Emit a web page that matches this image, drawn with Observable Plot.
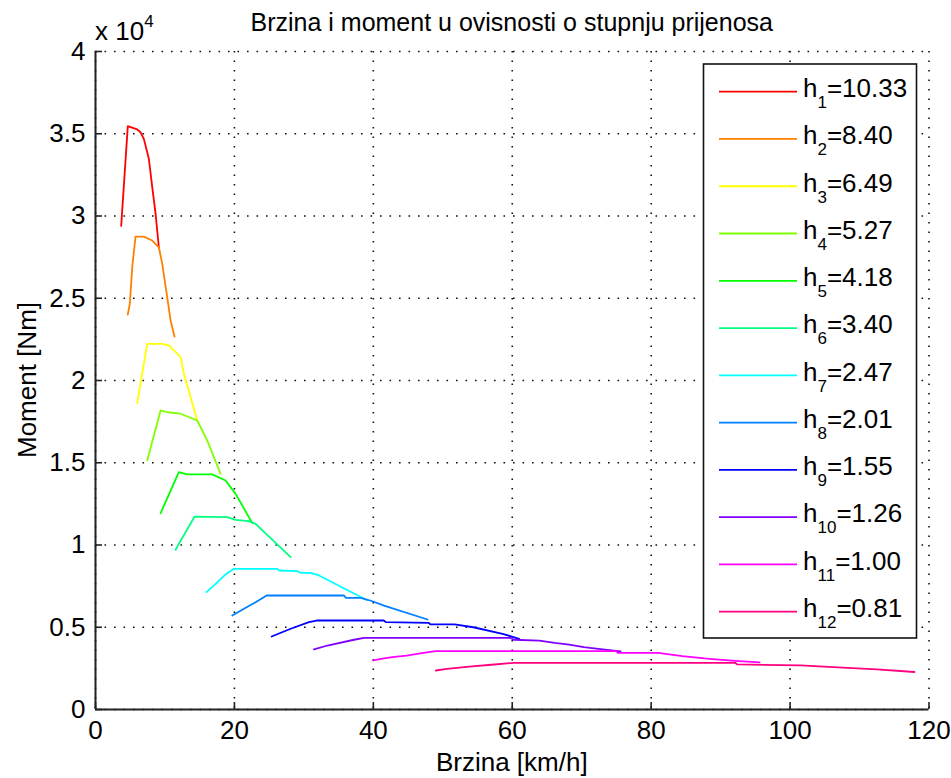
<!DOCTYPE html>
<html>
<head>
<meta charset="utf-8">
<script src="https://cdn.jsdelivr.net/npm/d3@7"></script>
<script src="https://cdn.jsdelivr.net/npm/@observablehq/plot@0.6"></script>
<style>
  html, body { margin: 0; padding: 0; background: #fff; }
  #chart svg { display: block; }
</style>
</head>
<body>
<div id="chart"></div>
<script>
// ---- data ----
const xTicks = [0, 20, 40, 60, 80, 100, 120];
const yTicks = [0, 5000, 10000, 15000, 20000, 25000, 30000, 35000, 40000];

const ratioLabels = ["10.33", "8.40", "6.49", "5.27", "4.18", "3.40", "2.47", "2.01", "1.55", "1.26", "1.00", "0.81"];
const gearColors = ["#ff0000", "#ff8000", "#ffff00", "#80ff00", "#00ff00", "#00ff80",
                    "#00ffff", "#0080ff", "#0000ff", "#8000ff", "#ff00ff", "#ff0080"];

// speed [km/h] and torque [Nm] per gear
const v1 = [3.7, 4.65, 5.04, 6.01, 6.48, 6.96, 7.68, 8.17, 8.65, 9.12];
const m1 = [29400, 35460, 35400, 35260, 35090, 34690, 33480, 31750, 30130, 28100];
const v2 = [4.65, 4.94, 5.29, 5.76, 6.96, 8.17, 9.12, 9.61, 10.33, 10.81, 11.38];
const m2 = [24010, 24660, 26890, 28750, 28750, 28510, 28100, 27090, 25060, 23650, 22670];
const v3 = [6.01, 7.45, 9.61, 10.56, 12.25, 12.72, 14.65];
const m3 = [18620, 22230, 22230, 22130, 21420, 20410, 17570];
const v4 = [7.45, 9.37, 10.33, 12.25, 14.65, 16.09, 18.01];
const m4 = [15140, 18180, 18070, 17980, 17570, 16350, 14330];
const v5 = [9.37, 12.0, 13.21, 16.82, 18.73, 20.17, 22.58];
const m5 = [11930, 14430, 14290, 14290, 13920, 13110, 11330];
const v6 = [11.53, 12.0, 14.27, 18.98, 20.17, 22.09, 23.05, 28.1];
const m6 = [9710, 10070, 11730, 11690, 11530, 11450, 11290, 9260];
const v7 = [15.99, 17.29, 18.73, 19.93, 26.18, 26.41, 29.06, 29.54, 30.98, 32.18, 39.05];
const m7 = [7130, 7640, 8210, 8550, 8550, 8450, 8410, 8310, 8310, 8150, 6660];
const v8 = [19.70, 21.37, 23.05, 24.64, 35.78, 36.02, 38.18, 39.87, 41.54, 47.80];
const m8 = [5710, 6120, 6520, 6930, 6930, 6790, 6790, 6580, 6320, 5470];
const v9 = [25.36, 28.1, 30.73, 31.84, 41.5, 41.8, 48.0, 48.2, 51.7, 54.4, 58.6, 61.0];
const m9 = [4440, 4910, 5310, 5410, 5410, 5310, 5270, 5170, 5170, 5000, 4600, 4300];
const v10 = [31.46, 33.39, 37.22, 38.66, 59.7, 60.2, 63.9, 66.1, 68.2, 70.3, 72.4, 75.6];
const m10 = [3650, 3890, 4240, 4360, 4360, 4240, 4190, 4050, 3950, 3790, 3690, 3530];
const v11 = [40.0, 41.1, 42.7, 44.8, 47.2, 49.0, 75.0, 75.2, 81.0, 84.5, 88.4, 92.1, 95.6];
const m11 = [2980, 3080, 3180, 3280, 3440, 3550, 3550, 3440, 3440, 3240, 3080, 2960, 2860];
const v12 = [49.0, 50.6, 53.8, 57.0, 60.2, 92.1, 92.4, 101.5, 107.6, 112.5, 117.9];
const m12 = [2370, 2470, 2610, 2720, 2840, 2840, 2740, 2680, 2550, 2440, 2280];

const speeds = [v1, v2, v3, v4, v5, v6, v7, v8, v9, v10, v11, v12];
const torques = [m1, m2, m3, m4, m5, m6, m7, m8, m9, m10, m11, m12];

const gears = speeds.map((vs, i) => ({
  index: i + 1,
  label: ratioLabels[i],
  color: gearColors[i],
  rows: vs.map((v, j) => ({ v, m: torques[i][j] }))
}));

// ---- layout ----
const W = 951, H = 778;
const mL = 95, mR = 22.5, mT = 51, mB = 69;
const FONT = "'Liberation Sans', Arial, Helvetica, sans-serif";
const plotW = W - mL - mR, plotH = H - mT - mB;

const svg = Plot.plot({
  width: W,
  height: H,
  marginLeft: mL,
  marginRight: mR,
  marginTop: mT,
  marginBottom: mB,
  style: { fontFamily: FONT, fontSize: "26px", color: "black", background: "white", overflow: "visible" },
  x: { domain: [0, 120] },
  y: { domain: [0, 40000] },
  marks: [
    Plot.gridX(xTicks, { stroke: "#111", strokeOpacity: 1, strokeWidth: 1.6, strokeDasharray: "1.6,7.9" }),
    Plot.gridY(yTicks, { stroke: "#111", strokeOpacity: 1, strokeWidth: 1.6, strokeDasharray: "1.6,7.9" }),
    Plot.tickX(xTicks, { x: d => d, insetTop: plotH - 7, stroke: "#222", strokeWidth: 1.6 }),
    Plot.tickY(yTicks, { y: d => d, insetRight: plotW - 7, stroke: "#222", strokeWidth: 1.6 }),
    ...gears.map(g => Plot.line(g.rows, { x: "v", y: "m", stroke: g.color, strokeWidth: 1.8 })),
    Plot.ruleX([0], { stroke: "#222", strokeWidth: 2 }),
    Plot.ruleY([0], { stroke: "#222", strokeWidth: 2 }),
    Plot.axisX(xTicks, { tickSize: 0, tickPadding: 11, label: null }),
    Plot.axisY(yTicks, { tickSize: 0, tickPadding: 10, label: null, tickFormat: d => String(d / 1e4) })
  ]
});

const s = d3.select(svg);
const txt = (x, y, str, opts = {}) => {
  const t = s.append("text")
    .attr("x", x).attr("y", y)
    .attr("font-family", FONT)
    .attr("font-size", opts.size || 26)
    .attr("fill", "black")
    .attr("text-anchor", opts.anchor || "start")
    .text(str);
  if (opts.transform) t.attr("transform", opts.transform);
  return t;
};

// title
txt(mL + plotW / 2, 31, "Brzina i moment u ovisnosti o stupnju prijenosa", { anchor: "middle", size: 25 });
// exponent
const ex = txt(95, 40, "x 10", { size: 26 });
ex.append("tspan").attr("dy", -13).attr("font-size", 17).text("4");
// axis labels
txt(mL + plotW / 2, 771, "Brzina [km/h]", { anchor: "middle", size: 26 });
txt(0, 0, "Moment [Nm]", { anchor: "middle", size: 26, transform: `translate(36,${mT + plotH / 2}) rotate(-90)` });

// legend
const lg = s.append("g");
lg.append("rect")
  .attr("x", 703.5).attr("y", 64).attr("width", 213).attr("height", 574)
  .attr("fill", "white").attr("stroke", "#111").attr("stroke-width", 1.6);
gears.forEach((g, i) => {
  const yy = 91.7 + 47.27 * i;
  lg.append("line")
    .attr("x1", 719).attr("x2", 797).attr("y1", yy).attr("y2", yy)
    .attr("stroke", g.color).attr("stroke-width", 1.8);
  const t = lg.append("text")
    .attr("x", 803).attr("y", yy + 5.3)
    .attr("font-family", FONT).attr("font-size", 26).attr("fill", "black")
    .attr("text-anchor", "start")
    .text("h");
  t.append("tspan").attr("dy", 11).attr("font-size", 17).text(String(g.index));
  t.append("tspan").attr("dy", -11).text("=" + g.label);
});

document.getElementById("chart").appendChild(svg);
</script>
</body>
</html>
